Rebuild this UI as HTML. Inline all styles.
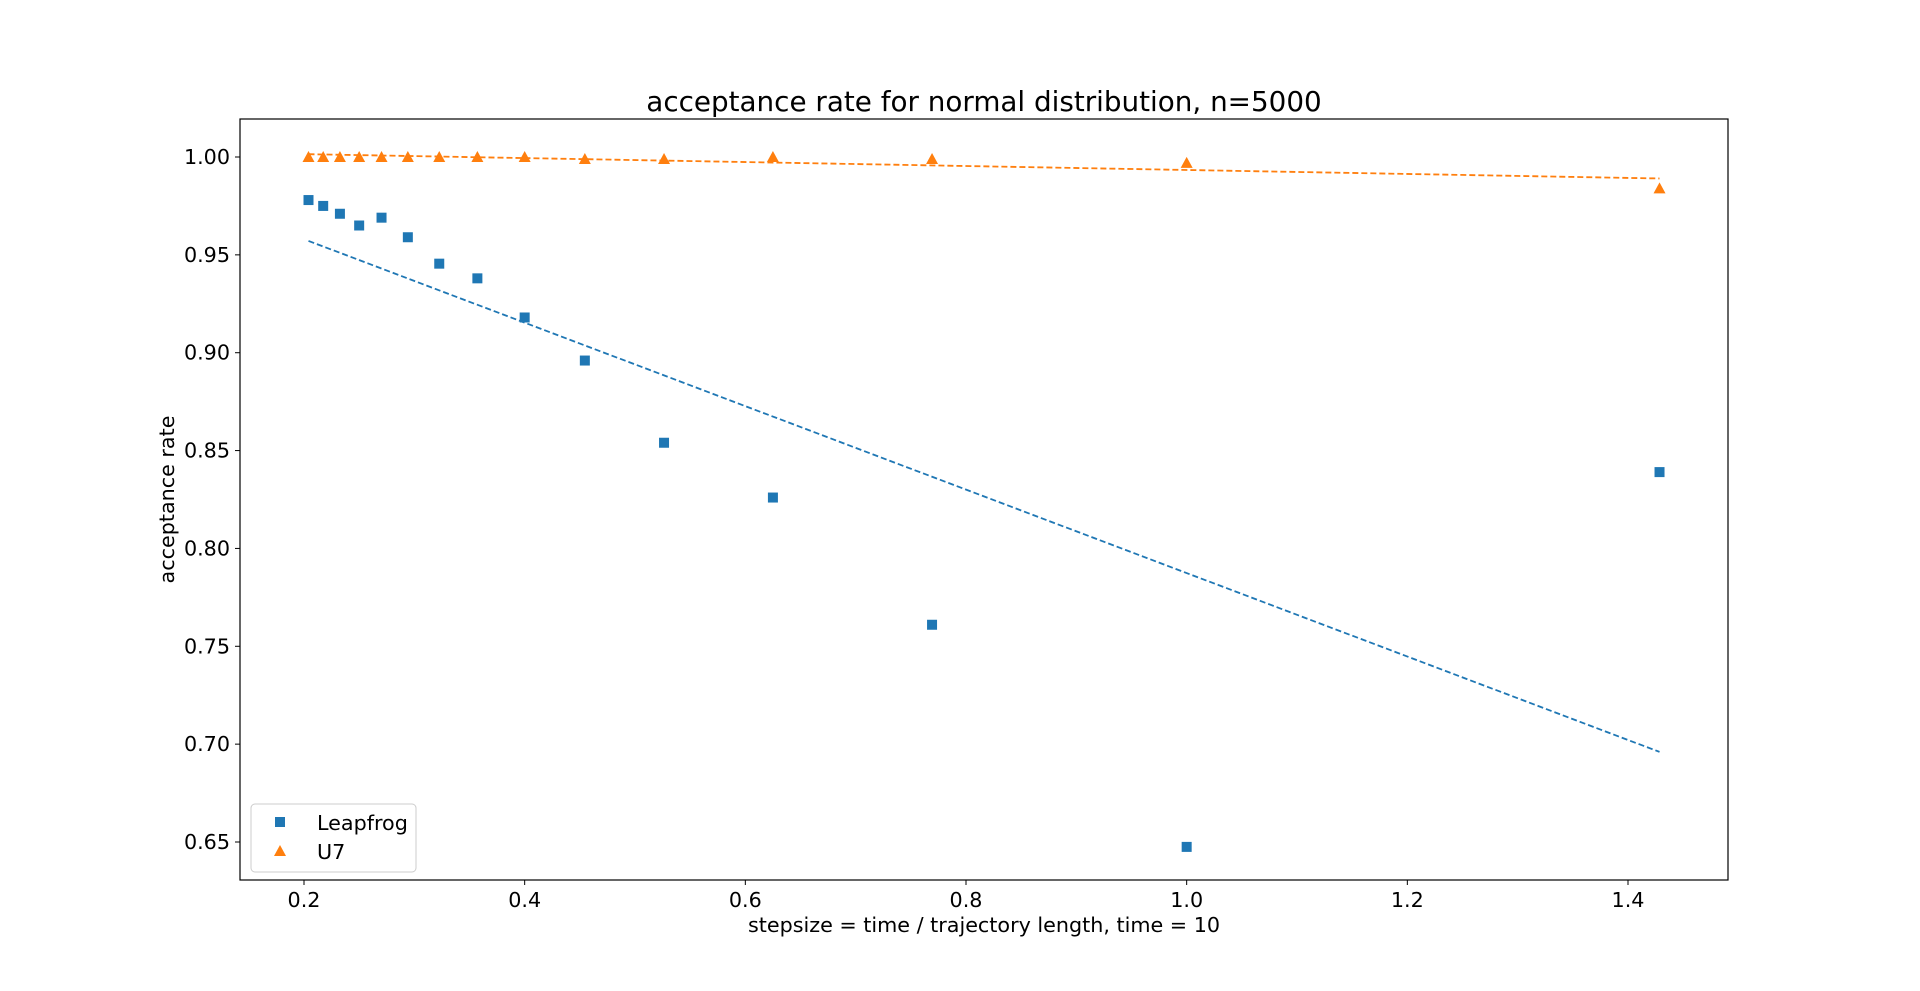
<!DOCTYPE html>
<html><head><meta charset="utf-8"><style>
html,body{margin:0;padding:0;background:#fff;}
svg{display:block;font-family:"DejaVu Sans","Liberation Sans",sans-serif;}
</style></head><body>
<svg id="chart" width="1920" height="991" viewBox="0 0 1920 991"></svg>
<script>
const trajLengths = [49,46,43,40,37,34,31,28,25,22,19,16,13,10,7];
const leapfrog = [0.978,0.975,0.971,0.965,0.969,0.959,0.9455,0.938,0.918,0.896,0.854,0.826,0.761,0.6475,0.839];
const u7 = [1.0,1.0,1.0,1.0,1.0,1.0,1.0,1.0,1.0,0.999,0.999,1.0,0.999,0.997,0.984];
const xTicks = [0.2,0.4,0.6,0.8,1.0,1.2,1.4];
const yTicks = [0.65,0.70,0.75,0.80,0.85,0.90,0.95,1.00];

const NS="http://www.w3.org/2000/svg";
const svg=document.getElementById('chart');
const L=240,R=1728,T=119,B=880;
const sx=v=>304+(v-0.2)/1.2*(1628-304);
const sy=v=>157+(1.0-v)/0.35*(842-157);
function mk(tag,attrs,parent){const e=document.createElementNS(NS,tag);for(const k in attrs)e.setAttribute(k,attrs[k]);(parent||svg).appendChild(e);return e;}
const xs=trajLengths.map(l=>10/l);

let frame=mk('rect',{x:L,y:T,width:R-L,height:B-T,fill:'none',stroke:'#000','stroke-width':1.2});



xTicks.forEach(t=>{
  const g=mk('g',{});
  
  
  mk('line',{x1:sx(t),x2:sx(t),y1:B,y2:B+5,stroke:'#000','stroke-width':1},g);
  const tx=mk('text',{x:sx(t),y:B+27,'text-anchor':'middle','font-size':20.7},g);tx.textContent=t.toFixed(1);
});
yTicks.forEach(t=>{
  const g=mk('g',{});
  
  
  mk('line',{x1:L-5,x2:L,y1:sy(t),y2:sy(t),stroke:'#000','stroke-width':1},g);
  const tx=mk('text',{x:L-10,y:sy(t)+7,'text-anchor':'end','font-size':20.7},g);tx.textContent=t.toFixed(2);
});

let title=mk('text',{x:(L+R)/2,y:111,'text-anchor':'middle','font-size':27.8});
title.textContent='acceptance rate for normal distribution, n=5000';


let xl=mk('text',{x:(L+R)/2,y:932,'text-anchor':'middle','font-size':20.7});
xl.textContent='stepsize = time / trajectory length, time = 10';


let yl=mk('text',{x:0,y:0,'text-anchor':'middle','font-size':20.7,transform:`translate(174,${(T+B)/2}) rotate(-90)`});
yl.textContent='acceptance rate';



function fit(x,y){const n=x.length;const mx=x.reduce((a,b)=>a+b)/n,my=y.reduce((a,b)=>a+b)/n;let sxy=0,sxx=0;for(let i=0;i<n;i++){sxy+=(x[i]-mx)*(y[i]-my);sxx+=(x[i]-mx)**2;}const b=sxy/sxx;return [my-b*mx,b];}
const x0=Math.min(...xs),x1=Math.max(...xs);
[[leapfrog,'#1f77b4','leapfrog-trend-line'],[u7,'#ff7f0e','u7-trend-line']].forEach(([ys,c,nm])=>{
  const [a,b]=fit(xs,ys);
  const ln=mk('line',{x1:sx(x0),y1:sy(a+b*x0),x2:sx(x1),y2:sy(a+b*x1),stroke:c,'stroke-width':1.8,'stroke-dasharray':'6,3'});
  
  
});
xs.forEach((x,i)=>{
  const r=mk('rect',{x:sx(x)-5,y:sy(leapfrog[i])-5,width:10,height:10,fill:'#1f77b4'});
  
  
});
xs.forEach((x,i)=>{
  const cx=sx(x),cy=sy(u7[i]);
  const p=mk('polygon',{points:`${cx},${cy-6} ${cx-6},${cy+5} ${cx+6},${cy+5}`,fill:'#ff7f0e'});
  
  
});

const lg=mk('g',{});


mk('rect',{x:251,y:804,width:165,height:68,rx:4,fill:'#fff',stroke:'#ccc','stroke-width':1},lg);
const e1=mk('g',{},lg);


mk('rect',{x:275,y:817,width:10,height:10,fill:'#1f77b4'},e1);
let t1=mk('text',{x:317,y:830,'font-size':20.7},e1);t1.textContent='Leapfrog';
const e2=mk('g',{},lg);


mk('polygon',{points:'280,845 274,856 286,856',fill:'#ff7f0e'},e2);
let t2=mk('text',{x:317,y:859,'font-size':20.7},e2);t2.textContent='U7';
</script>
</body></html>
